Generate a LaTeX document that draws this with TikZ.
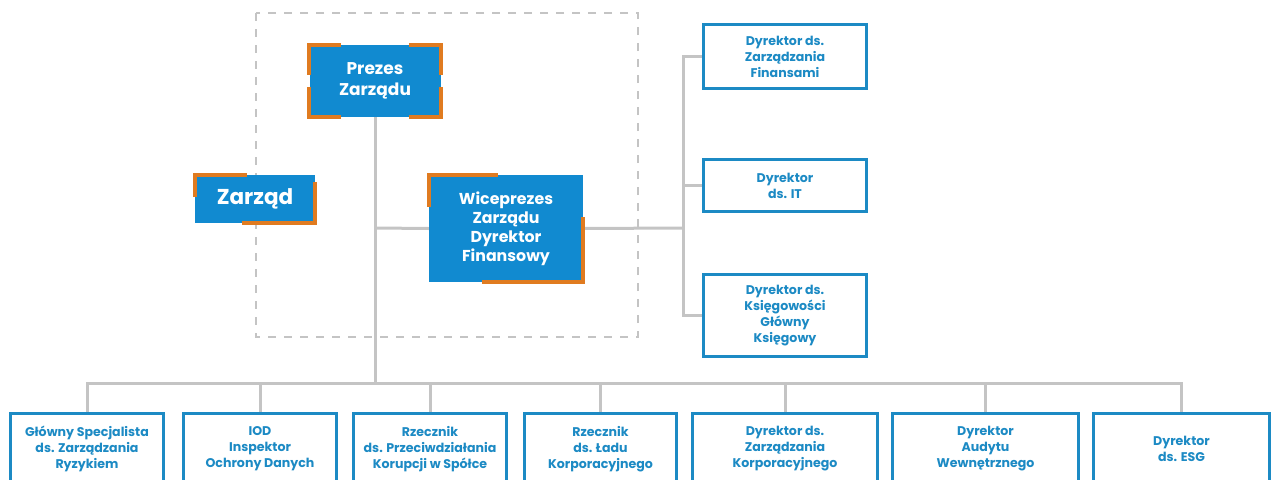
\documentclass[tikz,border=0pt]{standalone}
\usepackage{fontspec}
\setmainfont{Poppins}
\usetikzlibrary{positioning}
\definecolor{niebieski}{HTML}{118AD0}
\definecolor{ramka}{HTML}{1C8AC4}
\definecolor{pomarancz}{HTML}{E07B20}
\definecolor{szary}{HTML}{C4C4C4}
\tikzset{
  pelny/.style={fill=niebieski, text=white, inner sep=0pt, align=center,
    font=\bfseries\fontsize{17}{21}\selectfont},
  pusty/.style={draw=ramka, line width=3pt, fill=white, text=ramka, inner sep=0pt,
    align=center, font=\bfseries\fontsize{12.6}{16}\selectfont},
  kant/.style={draw=pomarancz, line width=4pt},
  linia/.style={draw=szary, line width=3pt}
}
\begin{document}
\begin{tikzpicture}[x=1pt,y=-1pt]
    \useasboundingbox (0,0) rectangle (1279,479);
    \clip (0,0) rectangle (1279,479);
    % obszar zarzadu
    \draw[szary, line width=1.5pt, dash pattern=on 8pt off 8pt] (256,13) rectangle (638,337);
    % punkty linii
    \coordinate (szyna) at (375,383);
    \coordinate (pion) at (683,228);
    \node[pelny, minimum width=131pt, minimum height=72pt] (prezes) at (375,81) {Prezes\\Zarządu};
    \node[pelny, minimum width=154pt, minimum height=107pt,
          font=\bfseries\fontsize{15.8}{19}\selectfont] (wice) at (506,228.5) {Wiceprezes\\Zarządu\\Dyrektor\\Finansowy};
    \node[pelny, minimum width=120pt, minimum height=48pt,
          font=\bfseries\fontsize{21.5}{24}\selectfont] (zarzad) at (255,199) {Zarząd};
    % prawa kolumna
    \node[pusty, minimum width=163pt, minimum height=64pt] (finanse) at (785,56.5) {Dyrektor ds.\\Zarządzania\\Finansami};
    \node[pusty, minimum width=163pt, minimum height=52pt] (it) at (785,185.5) {Dyrektor\\ds. IT};
    \node[pusty, minimum width=163pt, minimum height=82pt] (ksiegowy) at (785,315.5) {Dyrektor ds.\\Księgowości\\Główny\\Księgowy};
    % dolny rzad
    \node[pusty, minimum width=153pt, minimum height=72pt] (ryzyko) at (87,449) {Główny Specjalista\\ds. Zarządzania\\Ryzykiem};
    \node[pusty, minimum width=153pt, minimum height=72pt] (iod) at (260,449) {IOD\\Inspektor\\Ochrony Danych};
    \node[pusty, minimum width=153pt, minimum height=72pt] (korupcja) at (430,449) {Rzecznik\\ds. Przeciwdziałania\\Korupcji w Spółce};
    \node[pusty, minimum width=152pt, minimum height=72pt] (lad) at (600.5,449) {Rzecznik\\ds. Ładu\\Korporacyjnego};
    \node[pusty, minimum width=185pt, minimum height=72pt] (korpo) at (785,449) {Dyrektor ds.\\Zarządzania\\Korporacyjnego};
    \node[pusty, minimum width=186pt, minimum height=72pt] (audyt) at (985.5,449) {Dyrektor\\Audytu\\Wewnętrznego};
    \node[pusty, minimum width=176pt, minimum height=72pt] (esg) at (1181.5,449) {Dyrektor\\ds. ESG};
    % polaczenia
    \draw[linia] (prezes.south) -- (szyna);
    \draw[linia] (375,228) -- (wice.west);
    \draw[linia] (wice.east) -- (pion);
    \draw[linia] (finanse.west) -| (pion);
    \draw[linia] (it.west) -| (pion);
    \draw[linia] (ksiegowy.west) -| (pion);
    \foreach \n in {ryzyko,iod,korupcja,lad,korpo,audyt,esg}
        \draw[linia] (\n.north) |- (szyna);
    % narozniki
    \draw[kant] ([yshift=-30pt]prezes.north west) -- (prezes.north west) -- ([xshift=32pt]prezes.north west);
    \draw[kant] ([yshift=-30pt]prezes.north east) -- (prezes.north east) -- ([xshift=-32pt]prezes.north east);
    \draw[kant] ([yshift=30pt]prezes.south west) -- (prezes.south west) -- ([xshift=32pt]prezes.south west);
    \draw[kant] ([yshift=30pt]prezes.south east) -- (prezes.south east) -- ([xshift=-32pt]prezes.south east);
    \draw[kant] ([yshift=-22pt]zarzad.north west) -- (zarzad.north west) -- ([xshift=52pt]zarzad.north west);
    \draw[kant] ([yshift=41pt]zarzad.south east) -- (zarzad.south east) -- ([xshift=-73pt]zarzad.south east);
    \draw[kant] ([yshift=-32pt]wice.north west) -- (wice.north west) -- ([xshift=69pt]wice.north west);
    \draw[kant] ([yshift=65pt]wice.south east) -- (wice.south east) -- ([xshift=-101pt]wice.south east);
\end{tikzpicture}
\end{document}
